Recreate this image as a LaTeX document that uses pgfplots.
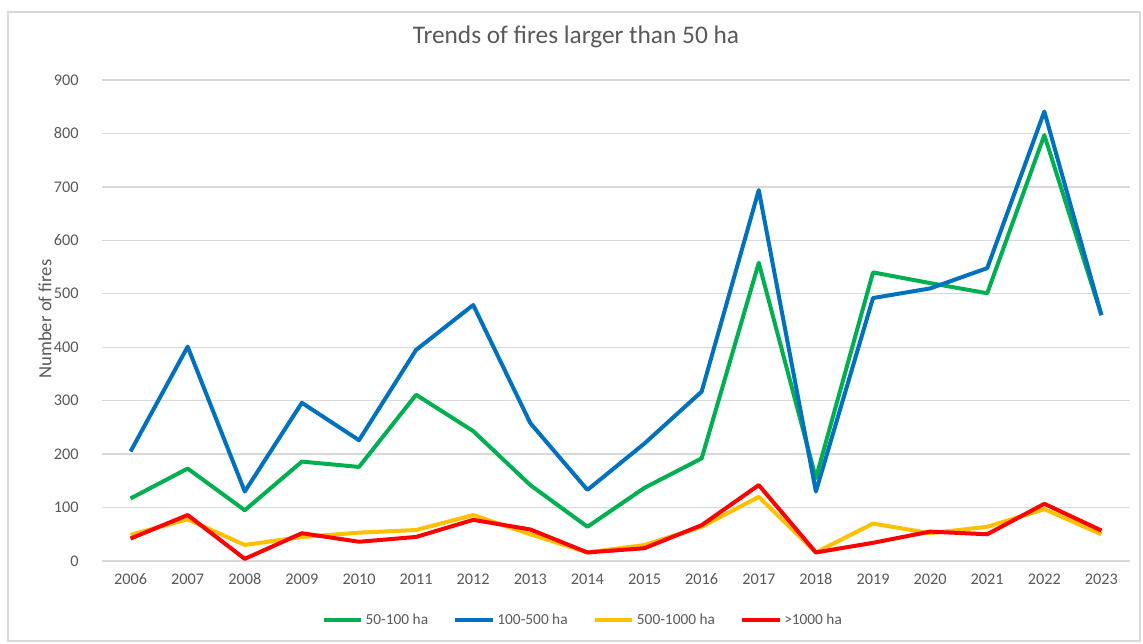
\documentclass[border=0pt]{standalone}
\usepackage{fontspec}
\setmainfont{Carlito}
\usepackage{pgfplots}
\pgfplotsset{compat=1.18}
\usepackage{pgfplotstable}

\definecolor{cGreen}{HTML}{00B050}
\definecolor{cBlue}{HTML}{0070C0}
\definecolor{cYellow}{HTML}{FFC000}
\definecolor{cRed}{HTML}{FF0000}
\definecolor{txt}{HTML}{595959}
\definecolor{grid}{HTML}{D9D9D9}

% index year s50 s100 s500 s1000
\pgfplotstableread{
i  year s50 s100 s500 s1000
0  2006 117 205  49  42
1  2007 173 401  78  86
2  2008  95 130  30   4
3  2009 186 296  45  52
4  2010 176 226  53  36
5  2011 311 395  58  45
6  2012 243 479  86  77
7  2013 142 258  50  59
8  2014  64 133  16  16
9  2015 137 220  30  24
10 2016 192 317  64  67
11 2017 558 694 120 142
12 2018 155 130  16  16
13 2019 540 492  70  34
14 2020 520 510  52  55
15 2021 501 548  64  50
16 2022 797 841  97 107
17 2023 460 460  50  57
}\fires

\begin{document}
\begin{tikzpicture}
\path (0,0) rectangle (857.25pt,482.25pt);
\draw[draw=grid, line width=1pt] (6pt,1.5pt) rectangle (855pt,473.25pt);
\begin{axis}[
    at={(76.5pt,61.5pt)}, anchor=south west,
    scale only axis,
    width=771pt, height=360.75pt,
    xmin=-0.5, xmax=17.5,
    ymin=0, ymax=900,
    xtick={0,...,17},
    xticklabels={2006,2007,2008,2009,2010,2011,2012,2013,2014,2015,2016,2017,2018,2019,2020,2021,2022,2023},
    ytick={0,100,...,900},
    axis line style={draw=none},
    major tick length=0pt,
    ymajorgrids,
    grid style={draw=grid, line width=1pt},
    ticklabel style={font=\fontsize{12.2}{14}\selectfont, text=txt},
    /pgf/number format/assume math mode=true,
    xticklabel style={yshift=-6pt},
    yticklabel style={xshift=-14pt},
    title={Trends of fires larger than 50 ha},
    title style={at={(axis description cs:0.461,1.073)}, anchor=center, font=\fontsize{19}{22}\selectfont, text=txt},
    ylabel={Number of fires},
    ylabel style={at={(axis description cs:-0.0554,0.503)}, anchor=center, rotate=0, font=\fontsize{14}{16}\selectfont, text=txt},
    legend columns=4,
    legend style={at={(axis description cs:0.468,-0.1227)}, anchor=center, draw=none, fill=none,
        font=\fontsize{11.5}{13}\selectfont, text=txt,
        /tikz/every even column/.append style={column sep=17pt}},
    legend image code/.code={\draw[line width=3pt] (0pt,0pt) -- (28pt,0pt);},
    every axis plot/.append style={line width=3pt, line join=round, mark=none},
]
\addplot[cGreen] table[x=i, y=s50] {\fires};
\addlegendentry{50-100 ha}
\addplot[cBlue] table[x=i, y=s100] {\fires};
\addlegendentry{100-500 ha}
\addplot[cYellow] table[x=i, y=s500] {\fires};
\addlegendentry{500-1000 ha}
\addplot[cRed] table[x=i, y=s1000] {\fires};
\addlegendentry{>1000 ha}
\end{axis}
\end{tikzpicture}
\end{document}
